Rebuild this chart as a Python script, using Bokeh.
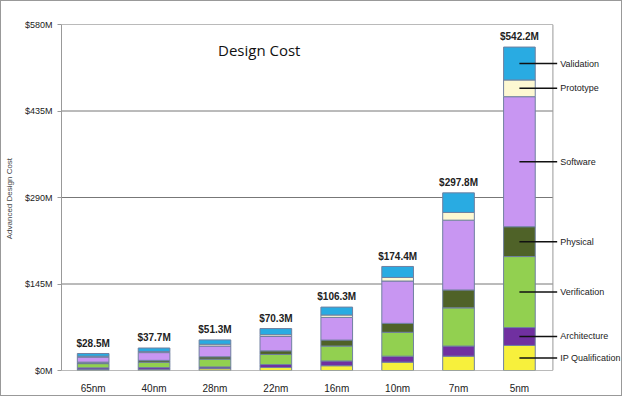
from bokeh.plotting import figure
from bokeh.models import FixedTicker, ColumnDataSource, Label
from bokeh.embed import file_html
from bokeh.resources import INLINE
from bokeh.core.properties import value

nodes = ["65nm", "40nm", "28nm", "22nm", "16nm", "10nm", "7nm", "5nm"]
totals = ["$28.5M", "$37.7M", "$51.3M", "$70.3M", "$106.3M", "$174.4M", "$297.8M", "$542.2M"]
ip_qual = [1.5, 2, 3, 5, 8, 14, 24, 42]
architecture = [3, 3, 3, 5, 8, 10, 17, 30]
verification = [7, 9, 13, 17, 25, 40, 64, 119]
physical = [2.5, 3, 4, 6, 10, 15, 30, 50]
software = [8.5, 13, 18, 24, 38, 71, 117, 218]
prototype = [1.5, 2, 3, 3, 4, 6, 13, 28]
validation = [4.5, 5.7, 7.3, 10.3, 13.3, 18.4, 32.8, 55.2]
series = ["IP Qualification", "Architecture", "Verification", "Physical", "Software", "Prototype", "Validation"]
colors = ["#f7f03c", "#7030a0", "#92d050", "#4f6228", "#c896f2", "#fdf8d2", "#29abe2"]
y_ticks = [0, 145, 290, 435, 580]
y_labels = ["$0M", "$145M", "$290M", "$435M", "$580M"]

xs = list(range(len(nodes)))
data = dict(x=xs)
for name, vals in zip(series, [ip_qual, architecture, verification, physical, software, prototype, validation]):
    data[name] = vals
src = ColumnDataSource(data)

p = figure(width=622, height=396, x_range=(-0.52, 8.66), y_range=(0, 580),
           output_backend="svg", toolbar_location=None,
           min_border_left=59, min_border_top=23, min_border_bottom=27, min_border_right=3)
p.styles = {"border": "1px solid #999"}
p.outline_line_color = None
p.xgrid.visible = False
p.ygrid.visible = False

p.segment(x0=[-0.52] * 5, x1=[7.55] * 5, y0=y_ticks, y1=y_ticks, line_color="#777", line_width=1)
p.segment(x0=[7.55], x1=[7.55], y0=[0], y1=[580], line_color="#999", line_width=1)

p.vbar_stack(series, x="x", width=0.52, source=src, color=colors,
             line_color="#7080a0", line_width=1)

tot = [sum(v) for v in zip(ip_qual, architecture, verification, physical, software, prototype, validation)]
p.text(x=xs, y=[t + 8 for t in tot], text=totals, text_align="center", text_baseline="bottom",
       text_font=value("Liberation Sans"), text_font_size="10px", text_font_style="bold", text_color="#222")

last = [ip_qual[-1], architecture[-1], verification[-1], physical[-1], software[-1], prototype[-1], validation[-1]]
mids = []
acc = 0
for v in last:
    mids.append(acc + v / 2)
    acc += v
p.segment(x0=[7] * 7, x1=[7.62] * 7, y0=mids, y1=mids, line_color="#111", line_width=1.5)
p.text(x=[7.67] * 7, y=mids, text=series, text_baseline="middle",
       text_font=value("Liberation Sans"), text_font_size="9px", text_color="#222")

p.add_layout(Label(x=2.05, y=520, text="Design Cost", text_font="Open Sans",
                   text_font_size="15px", text_color="#111"))

p.xaxis.ticker = FixedTicker(ticks=xs)
p.xaxis.major_label_overrides = {i: n for i, n in enumerate(nodes)}
p.xaxis.axis_line_color = None
p.xaxis.major_tick_line_color = None
p.xaxis.major_label_text_font = "Liberation Sans"
p.xaxis.major_label_text_font_size = "10px"
p.xaxis.major_label_text_color = "#222"
p.xaxis.major_label_standoff = 6

p.yaxis.ticker = FixedTicker(ticks=y_ticks)
p.yaxis.major_label_overrides = {t: l for t, l in zip(y_ticks, y_labels)}
p.yaxis.axis_line_color = "#999"
p.yaxis.major_tick_line_color = "#999"
p.yaxis.major_tick_out = 4
p.yaxis.major_tick_in = 0
p.yaxis.minor_tick_line_color = None
p.yaxis.major_label_text_font = "Liberation Sans"
p.yaxis.major_label_text_font_size = "9px"
p.yaxis.major_label_text_color = "#222"
p.yaxis.axis_label = "Advanced  Design Cost"
p.yaxis.axis_label_text_font = "Liberation Sans"
p.yaxis.axis_label_text_font_size = "8px"
p.yaxis.axis_label_text_font_style = "normal"
p.yaxis.axis_label_standoff = 8

open("out.html", "w").write(file_html(p, INLINE))
